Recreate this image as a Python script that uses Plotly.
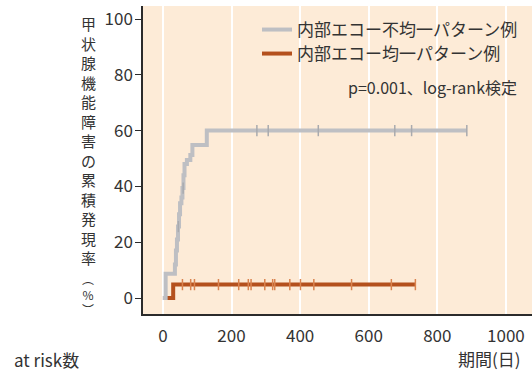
import plotly.graph_objects as go

# ---- data ----
grey_name = "内部エコー不均一パターン例"
grey_time = [0, 8, 35, 38, 41, 44, 47, 50, 54, 57, 60, 63, 70, 80, 86, 128, 886]
grey_value = [0, 8.7, 12, 17, 21, 25.6, 30, 34, 36, 39.4, 44, 48, 49.5, 51.3, 54.8, 60, 60]
grey_censor = [45, 59, 274, 307, 453, 676, 725, 886]

orange_name = "内部エコー均一パターン例"
orange_time = [0, 30, 736]
orange_value = [0, 4.8, 4.8]
orange_censor = [57, 81, 92, 162, 221, 249, 257, 297, 320, 326, 370, 401, 440, 550, 666, 736]

x_ticks = [0, 200, 400, 600, 800, 1000]
y_ticks = [0, 20, 40, 60, 80, 100]
y_title_main = ["甲", "状", "腺", "機", "能", "障", "害", "の", "累", "積", "発", "現", "率"]
y_title_unit = ["︵", "%", "︶"]
p_text = "p=0.001、log-rank検定"
x_title = "期間(日)"
risk_text = "at risk数"

GREY = "#BEBFC3"
GREY_T = "#A9AAAE"
ORANGE = "#B4501D"
ORANGE_T = "#D9834F"
FONT = "Noto Sans CJK JP"
TXT = "#333333"


def step_at(times, values, t):
    v = values[0]
    for tt, vv in zip(times, values):
        if tt <= t:
            v = vv
    return v


fig = go.Figure()
fig.add_trace(go.Scatter(x=orange_time, y=orange_value, mode="lines", line_shape="hv",
                         line=dict(color=ORANGE, width=4), name=orange_name, legend="legend2"))
fig.add_trace(go.Scatter(x=orange_censor, y=[step_at(orange_time, orange_value, t) for t in orange_censor],
                         mode="markers", marker=dict(symbol="line-ns", size=8,
                                                     line=dict(color=ORANGE_T, width=1.5)),
                         showlegend=False, hoverinfo="skip"))
fig.add_trace(go.Scatter(x=grey_time, y=grey_value, mode="lines", line_shape="hv",
                         line=dict(color=GREY, width=4), name=grey_name, legend="legend"))
fig.add_trace(go.Scatter(x=grey_censor, y=[step_at(grey_time, grey_value, t) for t in grey_censor],
                         mode="markers", marker=dict(symbol="line-ns", size=8,
                                                     line=dict(color=GREY_T, width=1.5)),
                         showlegend=False, hoverinfo="skip"))

L, T, B, W, H = 143, 6, 58, 532, 372
pw, ph = W - L, H - T - B


def px_x(x):
    return (x - L) / pw


def px_y(y):
    return (H - B - y) / ph


annotations = [
    dict(text="<br>".join(y_title_main), xref="paper", yref="paper", x=px_x(88), y=px_y(140),
         xanchor="center", yanchor="middle", showarrow=False,
         font=dict(family=FONT, size=15, color=TXT)),
    dict(text="<br>".join(y_title_unit), xref="paper", yref="paper", x=px_x(88), y=px_y(294),
         xanchor="center", yanchor="middle", showarrow=False,
         font=dict(family=FONT, size=12, color=TXT)),
    dict(text=p_text, xref="paper", yref="paper", x=px_x(519), y=px_y(87),
         xanchor="right", yanchor="middle", showarrow=False,
         font=dict(family=FONT, size=16, color=TXT)),
    dict(text=x_title, xref="paper", yref="paper", x=px_x(523), y=px_y(358),
         xanchor="right", yanchor="middle", showarrow=False,
         font=dict(family=FONT, size=17, color=TXT)),
    dict(text=risk_text, xref="paper", yref="paper", x=px_x(12), y=px_y(359),
         xanchor="left", yanchor="middle", showarrow=False,
         font=dict(family=FONT, size=17, color=TXT)),
]

legend_common = dict(xanchor="left", yanchor="middle", bgcolor="rgba(0,0,0,0)",
                     font=dict(family=FONT, size=17, color=TXT), itemwidth=30)

fig.update_layout(
    width=W, height=H,
    margin=dict(l=L, r=0, t=T, b=B, pad=0),
    paper_bgcolor="white",
    plot_bgcolor="#FDEBD7",
    font=dict(family=FONT, size=17, color=TXT),
    showlegend=True,
    legend=dict(x=px_x(257), y=px_y(30), **legend_common),
    legend2=dict(x=px_x(257), y=px_y(54), **legend_common),
    annotations=annotations,
    xaxis=dict(range=[-58, 1076], tickvals=x_ticks, showgrid=True, gridcolor="white",
               gridwidth=1.5, zeroline=False, showline=True, linecolor="#2b2b2b", linewidth=1.5,
               ticks="", ticklabelstandoff=6, tickfont=dict(family=FONT, size=17, color=TXT)),
    yaxis=dict(range=[-5.73, 104.66], tickvals=y_ticks, showgrid=False, zeroline=False,
               showline=True, linecolor="#2b2b2b", linewidth=1.5, ticks="outside", ticklen=6,
               tickcolor="#2b2b2b", tickwidth=1, ticklabelstandoff=-1,
               tickfont=dict(family=FONT, size=17, color=TXT)),
)

fig.write_html("out.html", config={"displayModeBar": False},
               post_script="document.body.style.margin='0';document.body.style.padding='0';")
